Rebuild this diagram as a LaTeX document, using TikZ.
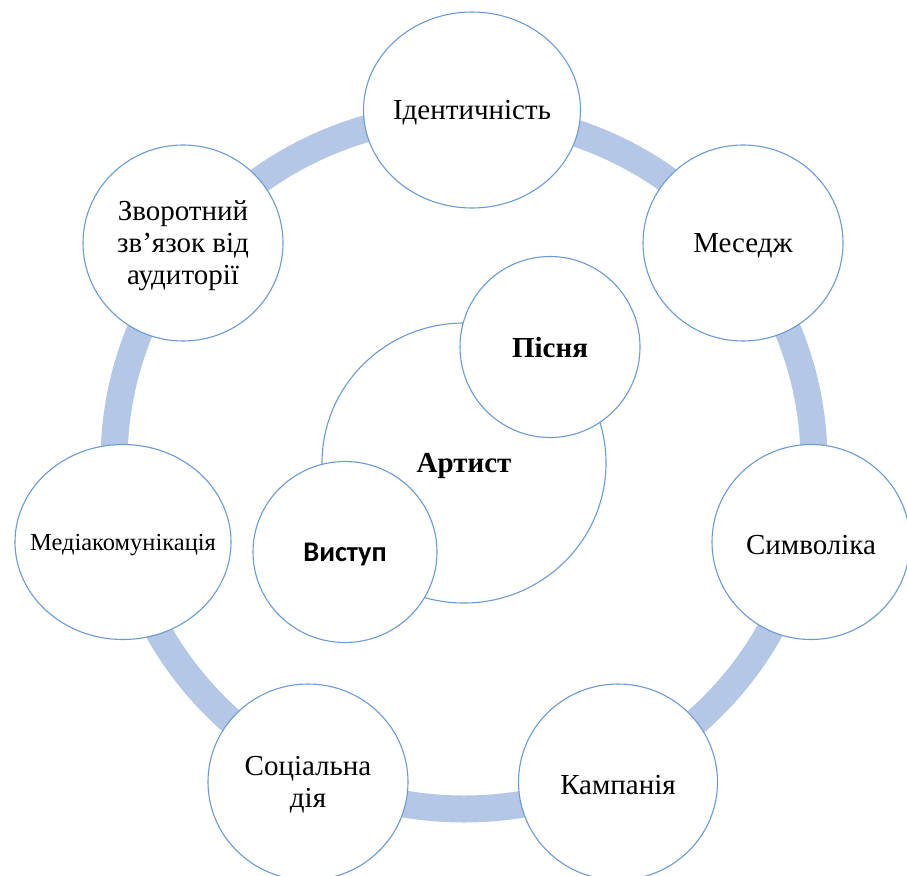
\documentclass[tikz,border=0pt]{standalone}
\usepackage{fontspec}
\setmainfont{Liberation Serif}
\newfontfamily\tnr{Liberation Serif}
\newfontfamily\calfont{Carlito}
\usetikzlibrary{shapes.geometric}
\definecolor{ringblue}{HTML}{B4C7E7}
\definecolor{edgeblue}{HTML}{6A9BD3}
\begin{document}
\begin{tikzpicture}[x=1pt,y=-1pt,
  bub/.style={ellipse, draw=edgeblue, line width=1.1pt, fill=white, inner sep=0pt},
  lbl/.style={align=center, inner sep=0pt, yshift=-3pt, font=\tnr\fontsize{29}{32}\selectfont},
  ringline/.style={draw=ringblue, line width=27pt}]
\useasboundingbox (0,0) rectangle (907,875);
\fill[white] (0,0) rectangle (907,875);
\draw[ringline] (464,462) ellipse [x radius=350pt, y radius=347pt];
% outer nodes
\node[bub, minimum width=217pt, minimum height=196pt] (ident) at (472,110) {};
\node[lbl] at (ident) {Ідентичність};
\node[bub, minimum width=200pt, minimum height=196pt] (mess) at (743,243) {};
\node[lbl] at (mess) {Меседж};
\node[bub, minimum width=198pt, minimum height=195pt] (symb) at (811,542) {};
\node[lbl] at (symb) {Символіка};
\node[bub, minimum width=199pt, minimum height=196pt] (camp) at (618,782) {};
\node[lbl] at (camp) {Кампанія};
\node[bub, minimum width=200pt, minimum height=196pt] (soc) at (308,782) {};
\node[lbl] at (soc) {Соціальна\\дія};
\node[bub, minimum width=216pt, minimum height=195pt] (media) at (123,542) {};
\node[lbl, font=\tnr\fontsize{24.5}{28}\selectfont] at (media) {Медіакомунікація};
\node[bub, minimum width=200pt, minimum height=196pt] (feed) at (183,243) {};
\node[lbl] at (feed) {Зворотний\\зв’язок від\\аудиторії};
% inner nodes
\node[bub, minimum width=284pt, minimum height=280pt] (artist) at (464,463) {};
\node[lbl, font=\tnr\bfseries\fontsize{29}{32}\selectfont] at (artist) {Артист};
\node[bub, minimum width=180pt, minimum height=181pt] (song) at (550,347) {};
\node[lbl, yshift=2pt, font=\tnr\bfseries\fontsize{29}{32}\selectfont] at (song) {Пісня};
\node[bub, minimum width=184pt, minimum height=181pt] (perf) at (345,552) {};
\node[lbl, font=\calfont\bfseries\fontsize{28.4}{32}\selectfont] at (perf) {Виступ};
\end{tikzpicture}
\end{document}
